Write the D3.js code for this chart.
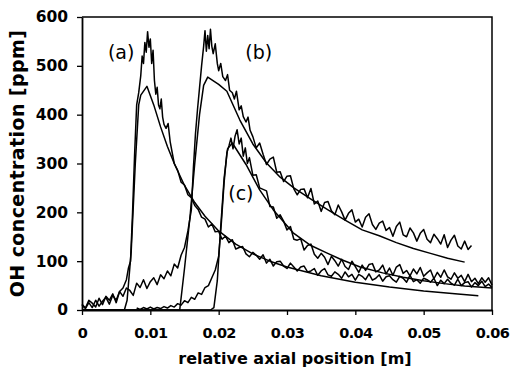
<!DOCTYPE html>
<html>
<head>
<meta charset="utf-8">
<script src="https://cdn.jsdelivr.net/npm/d3@7"></script>
<style>
  html, body { margin: 0; padding: 0; background: #fff; }
  svg { display: block; }
</style>
</head>
<body>
<svg id="chart" width="510" height="373"></svg>
<script>
const xTicks = [0, 0.01, 0.02, 0.03, 0.04, 0.05, 0.06]
const xTickLabels = ['0', '0.01', '0.02', '0.03', '0.04', '0.05', '0.06']
const yTicks = [0, 100, 200, 300, 400, 500, 600]
const curveLabels = ['(a)', '(b)', '(c)']

// measured profiles [position m, OH ppm]
const measuredA = [[0,10],[0.0005,3],[0.001,15],[0.0015,5],[0.002,20],[0.0025,8],[0.003,18],[0.0035,26],[0.004,12],[0.0045,30],[0.005,20],[0.0055,38],[0.006,45],[0.0065,62],[0.0068,86],[0.0071,100],[0.0074,200],[0.0077,320],[0.008,420],[0.0083,445],[0.0086,480],[0.0088,520],[0.009,505],[0.0092,548],[0.0094,528],[0.0096,570],[0.0098,538],[0.01,555],[0.0102,505],[0.0104,532],[0.0106,470],[0.0108,442],[0.011,456],[0.0112,420],[0.0114,412],[0.0116,432],[0.0118,395],[0.012,380],[0.0123,372],[0.0126,382],[0.0129,345],[0.0132,322],[0.0135,300],[0.014,286],[0.0145,262],[0.015,256],[0.0155,236],[0.016,230],[0.0165,214],[0.017,206],[0.0175,190],[0.018,186],[0.0185,170],[0.019,176],[0.0195,160],
  [0.02,161],[0.0205,145],[0.021,151],[0.0215,138],[0.022,144],[0.0225,125],[0.023,128],[0.0235,130],[0.024,115],[0.0245,109],[0.025,118],[0.0255,112],[0.026,104],[0.0265,113],[0.027,96],[0.0275,104],[0.028,90],[0.0285,99],[0.029,100],[0.0295,90],[0.03,85],[0.0305,96],[0.031,88],[0.0315,80],[0.032,88],[0.0325,90],[0.033,78],[0.0335,80],[0.034,85],[0.0345,71],[0.035,80],[0.0355,85],[0.036,72],[0.0365,69],[0.037,78],[0.0375,73],[0.038,65],[0.0385,78],[0.039,68],[0.0395,73],[0.04,61],[0.0405,73],
  [0.041,69],[0.0415,62],[0.042,74],[0.0425,61],[0.043,65],[0.0435,72],[0.044,59],[0.0445,68],[0.045,70],[0.0455,62],[0.046,57],[0.0465,69],[0.047,65],[0.0475,57],[0.048,71],[0.0485,58],[0.049,62],[0.0495,55],[0.05,65],[0.0505,62],[0.051,57],[0.0515,65],[0.052,50],[0.0525,61],[0.053,54],[0.0535,63],[0.054,55],[0.0545,51],[0.055,63],[0.0555,50],[0.056,56],[0.0565,58],[0.057,47],[0.0575,56],[0.058,50],[0.0585,59],[0.059,48],[0.0595,53],[0.06,46]]

const measuredB = [[0,12],[0.0005,4],[0.001,20],[0.0015,14],[0.002,6],[0.0025,24],[0.003,11],[0.0035,28],[0.004,20],[0.0045,33],[0.005,15],[0.0055,38],[0.006,28],[0.0065,45],[0.007,40],[0.0075,30],[0.008,55],[0.0085,46],[0.009,62],[0.0095,44],[0.01,58],[0.0105,66],[0.011,52],[0.0115,72],[0.012,64],[0.0125,80],[0.013,70],[0.0135,94],[0.014,86],[0.0145,112],[0.015,128],[0.0155,162],[0.016,205],
  [0.0163,290],[0.0166,360],[0.0169,410],[0.0172,455],[0.0175,500],[0.0178,540],[0.018,572],[0.0182,530],[0.0184,562],[0.0186,535],[0.0188,575],[0.019,540],[0.0192,525],[0.0195,545],[0.0198,505],
  [0.02,490],[0.0203,505],[0.0206,478],[0.021,470],[0.0213,482],[0.0216,450],[0.022,445],[0.0223,432],[0.0226,448],[0.023,410],[0.0233,418],[0.0236,396],[0.024,385],[0.0243,395],[0.0246,368],
  [0.025,355],[0.0255,332],[0.026,342],[0.0265,319],[0.027,298],[0.0275,309],[0.028,313],[0.0285,282],[0.029,283],[0.0295,263],[0.03,274],[0.0305,275],[0.031,248],[0.0315,236],[0.032,247],[0.0325,248],[0.033,230],[0.0335,249],[0.034,217],[0.0345,223],[0.035,202],[0.0355,220],[0.036,222],[0.0365,203],[0.037,195],[0.0375,215],[0.038,201],[0.0385,184],[0.039,198],[0.0395,205],[0.04,180],[0.0405,186],[0.041,170],[0.0415,190],[0.042,197],[0.0425,175],[0.043,165],[0.0435,178],[0.044,182],[0.0445,163],[0.045,169],[0.0455,151],[0.046,171],[0.0465,180],[0.047,154],[0.0475,150],[0.048,168],[0.0485,158],[0.049,141],[0.0495,157],[0.05,165],[0.0505,145],[0.051,138],[0.0515,155],[0.052,146],[0.0525,135],[0.053,154],[0.0535,128],[0.054,143],[0.0545,153],[0.055,131],[0.0555,125],[0.056,141],[0.0565,124],[0.057,132]]

const measuredC = [[0.008,4],[0.0085,1],[0.009,5],[0.0095,2],[0.01,6],[0.0105,2],[0.011,5],[0.0115,3],[0.012,7],[0.0125,4],[0.013,9],[0.0135,6],[0.014,13],[0.0145,10],[0.015,19],[0.0155,15],[0.016,26],[0.0165,22],[0.017,35],[0.0175,32],[0.018,46],[0.0185,50],[0.019,66],[0.0195,82],[0.02,110],[0.0204,180],[0.0208,262],[0.0212,322],[0.0215,336],[0.0218,352],[0.0221,330],[0.0224,356],[0.0227,369],[0.023,340],[0.0233,352],[0.0236,315],[0.0239,332],[0.0242,300],[0.0245,312],
  [0.025,276],[0.0255,277],[0.026,250],[0.0265,247],[0.027,244],[0.0275,212],[0.028,211],[0.0285,188],[0.029,195],[0.0295,182],[0.03,164],[0.0305,171],[0.031,145],[0.0315,143],[0.032,146],[0.0325,123],[0.033,132],[0.0335,135],[0.034,114],[0.0345,106],[0.035,116],[0.0355,108],[0.036,93],[0.0365,110],[0.037,101],[0.0375,90],[0.038,104],[0.0385,89],[0.039,83],[0.0395,100],[0.04,89],
  [0.0405,77],[0.041,92],[0.0415,81],[0.042,93],[0.0425,95],[0.043,78],[0.0435,82],[0.044,92],[0.0445,74],[0.045,86],[0.0455,71],[0.046,88],[0.0465,93],[0.047,75],[0.0475,81],[0.048,70],[0.0485,84],[0.049,74],[0.0495,87],[0.05,69],[0.0505,76],[0.051,82],[0.0515,64],[0.052,77],[0.0525,67],[0.053,82],[0.0535,68],[0.054,63],[0.0545,76],[0.055,65],[0.0555,71],[0.056,58],[0.0565,73],[0.057,58],[0.0575,65],[0.058,54],[0.0585,66],[0.059,57],[0.0595,66],[0.06,51]]

// model profiles
const modelA = [[0,0],[0.0062,0],[0.0066,20],[0.0072,120],[0.0078,300],[0.0083,420],[0.0086,440],[0.0095,458],[0.0105,420],[0.0115,375],[0.0125,335],[0.0135,300],[0.015,255],[0.0165,220],[0.018,192],[0.02,162],[0.0225,135],[0.025,115],[0.0275,100],[0.03,88],[0.035,70],[0.04,57],[0.045,47],[0.05,39],[0.055,33],[0.058,29]]
const modelB = [[0,0],[0.0143,0],[0.015,85],[0.0158,190],[0.0165,300],[0.0172,400],[0.0178,460],[0.0184,477],[0.02,462],[0.0212,448],[0.0231,389],[0.025,340],[0.027,301],[0.029,272],[0.031,250],[0.0335,227],[0.036,205],[0.0385,184],[0.041,164],[0.0435,152],[0.046,138],[0.0485,126],[0.051,116],[0.0535,106],[0.056,98]]
const modelC = [[0,0],[0.0188,0],[0.0193,5],[0.0198,60],[0.0203,170],[0.0208,270],[0.0213,330],[0.022,342],[0.023,320],[0.024,298],[0.026,246],[0.028,205],[0.0309,158],[0.0335,132],[0.0358,117],[0.038,103],[0.0407,88],[0.044,76],[0.047,67],[0.05,60],[0.053,54],[0.056,49],[0.06,45]]

const svg = d3.select('#chart')
const margin = {top: 17, right: 18, bottom: 63, left: 82}
const width = 510, height = 373

const x = d3.scaleLinear().domain([0, 0.06]).range([margin.left, width - margin.right])
const y = d3.scaleLinear().domain([0, 600]).range([height - margin.bottom, margin.top])

const font = 'DejaVu Sans, sans-serif'

const line = d3.line().x(d => x(d[0])).y(d => y(d[1]))

const drawCurve = (data, w) =>
  svg.append('path')
    .datum(data)
    .attr('fill', 'none')
    .attr('stroke', '#000')
    .attr('stroke-width', w)
    .attr('stroke-linejoin', 'round')
    .attr('d', line)

drawCurve(modelA, 1.5)
drawCurve(modelB, 1.5)
drawCurve(modelC, 1.5)
drawCurve(measuredA, 1.5)
drawCurve(measuredB, 1.5)
drawCurve(measuredC, 1.5)

// frame top / right
svg.append('path')
  .attr('d', `M${x(0)},${y(600)}H${x(0.06)}V${y(0)}`)
  .attr('fill', 'none').attr('stroke', '#000').attr('stroke-width', 1.5)

const xAxis = svg.append('g')
  .attr('transform', `translate(0,${y(0)})`)
  .call(d3.axisBottom(x).tickValues(xTicks).tickFormat((d, i) => xTickLabels[i]).tickSize(5).tickPadding(13).tickSizeOuter(0))
xAxis.select('.domain').attr('stroke-width', 1.8)
xAxis.selectAll('.tick line').attr('stroke-width', 1.3)
xAxis.selectAll('text')
  .attr('font-family', font).attr('font-weight', 'bold').attr('font-size', 14.5)
  .attr('letter-spacing', -0.6).attr('fill', '#000')

const yAxis = svg.append('g')
  .attr('transform', `translate(${x(0)},0)`)
  .call(d3.axisLeft(y).tickValues(yTicks).tickFormat(d3.format('d')).tickSize(5).tickPadding(9).tickSizeOuter(0))
yAxis.select('.domain').attr('stroke-width', 1.8)
yAxis.selectAll('.tick line').attr('stroke-width', 1.3)
yAxis.selectAll('text')
  .attr('font-family', font).attr('font-weight', 'bold').attr('font-size', 15.5).attr('fill', '#000')

// axis titles
svg.append('text')
  .attr('x', 295)
  .attr('y', 364)
  .attr('text-anchor', 'middle')
  .attr('font-family', font).attr('font-weight', 'bold').attr('font-size', 16)
  .text('relative axial position [m]')

svg.append('text')
  .attr('transform', `translate(24,${(y(0) + y(600)) / 2}) rotate(-90)`)
  .attr('text-anchor', 'middle')
  .attr('font-family', font).attr('font-weight', 'bold').attr('font-size', 19)
  .attr('letter-spacing', 0.4)
  .text('OH concentration [ppm]')

// curve labels
const labelAnchors = [[0.0038, 514], [0.0239, 514], [0.0214, 225]]
curveLabels.forEach((t, i) => {
  svg.append('text')
    .attr('x', x(labelAnchors[i][0]))
    .attr('y', y(labelAnchors[i][1]))
    .attr('font-family', font).attr('font-size', 19)
    .text(t)
})
</script>
</body>
</html>
